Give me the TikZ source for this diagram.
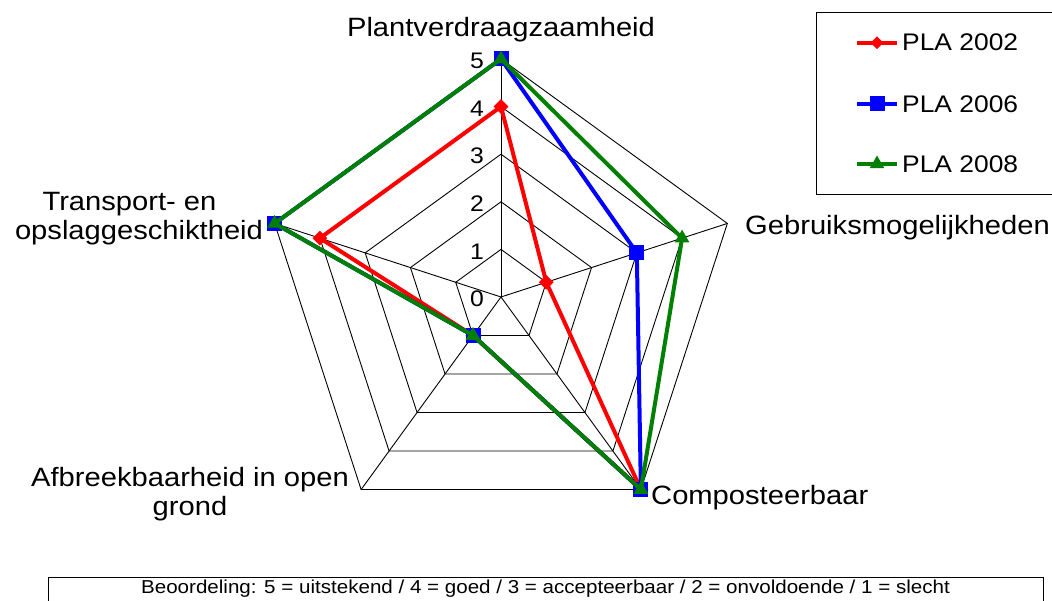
\documentclass[tikz,border=0pt]{standalone}
\usepackage{fontspec}
\setmainfont{Liberation Sans}[FakeStretch=1.1]
\usepackage{tikz}
\usetikzlibrary{shapes.geometric,calc,positioning}

\definecolor{plared}{RGB}{255,0,0}
\definecolor{plablue}{RGB}{0,0,255}
\definecolor{plagreen}{RGB}{0,128,0}

\begin{document}
\begin{tikzpicture}[x=1pt, y=1pt,
    grid/.style={draw=black, line width=0.9pt, line join=miter},
    series/.style={line width=4pt, line join=round},
    lab/.style={font=\fontsize{26.5}{29}\selectfont, inner sep=0pt, align=center},
    tick/.style={font=\fontsize{22.5}{24}\selectfont, inner sep=0pt, anchor=east},
    legtext/.style={font=\fontsize{24}{26}\selectfont, inner sep=0pt, anchor=west},
    dmark/.style={diamond, fill=plared, minimum width=15pt, minimum height=15pt, inner sep=0pt},
    smark/.style={rectangle, fill=plablue, minimum size=15pt, inner sep=0pt},
    tmark/.style={regular polygon, regular polygon sides=3, fill=plagreen, minimum size=17pt, inner sep=0pt}]

    \useasboundingbox (0,0) rectangle (1052,601);
    \def\st{47.6}

    % Centre of the radar
    \coordinate (c) at (501,304);

    % Grid
    \foreach \l in {1,...,5}
        \draw[grid] ($(c)+(90:\l*\st)$) -- ($(c)+(18:\l*\st)$) -- ($(c)+(-54:\l*\st)$)
            -- ($(c)+(-126:\l*\st)$) -- ($(c)+(162:\l*\st)$) -- cycle;
    \foreach \i in {1,...,5}
        \draw[grid] (c) -- ($(c)+({162-72*\i}:{5*\st})$);

    % Scale
    \foreach \l in {0,...,5}
        \node[tick] (t\l) at ($(c)+(-17,{\l*\st-2})$) {\l};

    % Axis labels
    \node[lab, anchor=base] (plant) at (501,564.3) {Plantverdraagzaamheid};
    \node[lab, anchor=base west] (gebr) at (745,366) {Gebruiksmogelijkheden};
    \node[lab, anchor=base west] (comp) at (651,96) {Composteerbaar};
    \node[lab] (afbr) at (190,106.5) {Afbreekbaarheid in open\\grond};
    \node[lab] (trans) at (139,382) {Transport- en\hspace*{19pt}\\opslaggeschiktheid};

    % Data points
    \foreach \v [count=\i] in {4,1,5,1,4}
        \coordinate (r\i) at ($(c)+({162-72*\i}:{\v*\st})$);
    \foreach \v [count=\i] in {5,3,5,1,5}
        \coordinate (b\i) at ($(c)+({162-72*\i}:{\v*\st})$);
    \foreach \v [count=\i] in {5,4,5,1,5}
        \coordinate (g\i) at ($(c)+({162-72*\i}:{\v*\st})$);

    % PLA 2002
    \draw[series, plared] (r1) -- (r2) -- (r3) -- (r4) -- (r5) -- cycle;
    \foreach \i in {1,...,5} \node[dmark] (rm\i) at (r\i) {};
    % PLA 2006
    \draw[series, plablue] (b1) -- (b2) -- (b3) -- (b4) -- (b5) -- cycle;
    \foreach \i in {1,...,5} \node[smark] (bm\i) at (b\i) {};
    % PLA 2008
    \draw[series, plagreen] (g1) -- (g2) -- (g3) -- (g4) -- (g5) -- cycle;
    \foreach \i in {1,...,5} \node[tmark] (gm\i) at (g\i) {};

    % Legend
    \draw[line width=0.9pt] (816,588.7) rectangle (1070,406.7);
    \coordinate (la) at (857,558.3);  \coordinate (lb) at (897,558.3);
    \coordinate (lc) at (857,497);    \coordinate (ld) at (897,497);
    \coordinate (le) at (857,437);    \coordinate (lf) at (897,437);
    \draw[series, plared] (la) -- (lb);
    \node[dmark, minimum width=13pt, minimum height=13pt] (lm1) at ($(la)!0.5!(lb)$) {};
    \node[legtext] (l1) at (902,558.3) {PLA 2002};
    \draw[series, plablue] (lc) -- (ld);
    \node[smark] (lm2) at ($(lc)!0.5!(ld)$) {};
    \node[legtext] (l2) at (902,497) {PLA 2006};
    \draw[series, plagreen] (le) -- (lf);
    \node[tmark] (lm3) at ($(le)!0.5!(lf)$) {};
    \node[legtext] (l3) at (902,437) {PLA 2008};

    % Rating note
    \draw[line width=0.9pt] (48,24) rectangle (1043,-10);
    \node[font=\fontsize{18.7}{21}\selectfont, inner sep=0pt, anchor=base] (note) at (545.5,7)
        {Beoordeling: 5 = uitstekend / 4 = goed / 3 = accepteerbaar / 2 = onvoldoende / 1 = slecht};

\end{tikzpicture}
\end{document}
